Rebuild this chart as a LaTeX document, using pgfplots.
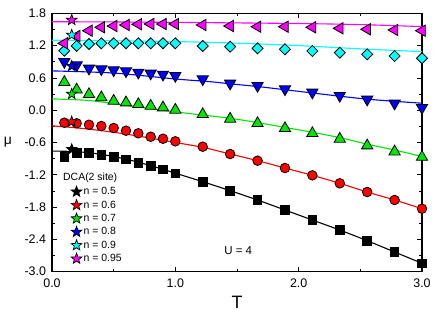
\documentclass[border=0pt]{standalone}
\usepackage{fontspec}
\setmainfont{Liberation Sans}
\usepackage{pgfplots}
\pgfplotsset{compat=1.18}
\usetikzlibrary{plotmarks}
\definecolor{cgreen}{RGB}{0,230,0}
\definecolor{ccyan}{RGB}{0,255,255}
\definecolor{cmag}{RGB}{255,0,255}
\pgfdeclareplotmark{fstar}{%
  \pgfpathmoveto{\pgfpointpolar{90}{\pgfplotmarksize}}%
  \pgfpathlineto{\pgfpointpolar{126}{0.42\pgfplotmarksize}}%
  \pgfpathlineto{\pgfpointpolar{162}{\pgfplotmarksize}}%
  \pgfpathlineto{\pgfpointpolar{198}{0.42\pgfplotmarksize}}%
  \pgfpathlineto{\pgfpointpolar{234}{\pgfplotmarksize}}%
  \pgfpathlineto{\pgfpointpolar{270}{0.42\pgfplotmarksize}}%
  \pgfpathlineto{\pgfpointpolar{306}{\pgfplotmarksize}}%
  \pgfpathlineto{\pgfpointpolar{342}{0.42\pgfplotmarksize}}%
  \pgfpathlineto{\pgfpointpolar{18}{\pgfplotmarksize}}%
  \pgfpathlineto{\pgfpointpolar{54}{0.42\pgfplotmarksize}}%
  \pgfpathclose\pgfusepathqfillstroke}
\pgfdeclareplotmark{sqdia}{%
  \pgfpathmoveto{\pgfqpoint{0pt}{\pgfplotmarksize}}%
  \pgfpathlineto{\pgfqpoint{\pgfplotmarksize}{0pt}}%
  \pgfpathlineto{\pgfqpoint{0pt}{-\pgfplotmarksize}}%
  \pgfpathlineto{\pgfqpoint{-\pgfplotmarksize}{0pt}}%
  \pgfpathclose\pgfusepathqfillstroke}
\pgfplotsset{
  mk/.style 2 args={only marks, forget plot, mark options={draw=black, line width=0.8bp, fill=#1, solid, rotate=#2}},
  cv/.style={no marks, smooth, forget plot, line width=1.1bp, draw=#1},
  st/.style={only marks, mark=fstar, mark size=5.6bp, mark options={draw=black, line width=0.7bp, fill=#1}},
}
\begin{document}
\begin{tikzpicture}
\useasboundingbox (0,0) rectangle (436bp,315bp);
\begin{axis}[
  at={(52bp,43.3bp)}, anchor=south west,
  scale only axis, width=370bp, height=258.4bp,
  xmin=0, xmax=3, ymin=-3, ymax=1.8,
  xtick={0,1,2,3}, minor xtick={0.5,1.5,2.5},
  ytick={-3,-2.4,-1.8,-1.2,-0.6,0,0.6,1.2,1.8},
  minor ytick={-2.7,-2.1,-1.5,-0.9,-0.3,0.3,0.9,1.5},
  xtick pos=both, ytick pos=both, tick align=inside,
  major tick length=5bp, minor tick length=3bp,
  every tick/.style={black, line width=0.8bp},
  axis line style={line width=1.1bp},
  /pgf/number format/.cd, fixed, fixed zerofill, precision=1, assume math mode=true, /pgfplots/.cd,
  tick label style={font=\fontsize{12.5}{14}\selectfont},
  xticklabel style={yshift=-4bp},
  yticklabel style={xshift=-2.5bp},
  xlabel={T}, ylabel={μ},
  xlabel style={font=\fontsize{18}{20}\selectfont, at={(axis description cs:0.5,0)}, anchor=center, yshift=-30.5bp},
  ylabel style={font=\fontsize{14}{16}\selectfont, rotate=-90, at={(axis description cs:0,0.5)}, anchor=center, xshift=-44bp},
  legend style={draw=none, fill=none, at={(axis cs:0.13,-1.35)}, anchor=north west,
    font=\fontsize{10.5}{12}\selectfont, row sep=0pt,
    nodes={inner sep=1.8bp, text height=7.8bp, text depth=2bp}},
  legend cell align=left,
  clip=false,
]
% curves
\addplot[cv=black] coordinates {(0,-0.76) (0.2,-0.77) (0.4,-0.82) (0.6,-0.91) (0.8,-1.03) (1.0,-1.17) (1.2222,-1.328) (1.4444,-1.495) (1.6667,-1.668) (1.8889,-1.854) (2.1111,-2.04) (2.3333,-2.226) (2.5556,-2.424) (2.7778,-2.634) (3.0,-2.844)};
\addplot[cv=red] coordinates {(0,-0.29) (0.25,-0.34) (0.5,-0.41) (0.75,-0.5) (1.0,-0.60) (1.2222,-0.69) (1.4444,-0.814) (1.6667,-0.938) (1.8889,-1.074) (2.1111,-1.21) (2.3333,-1.358) (2.5556,-1.52) (2.7778,-1.668) (3.0,-1.83)};
\addplot[cv=cgreen] coordinates {(0,0.21) (0.3,0.18) (0.6,0.09) (1.0,-0.03) (1.2222,-0.09) (1.4444,-0.15) (1.6667,-0.23) (1.8889,-0.32) (2.1111,-0.41) (2.3333,-0.51) (2.5556,-0.63) (2.7778,-0.74) (3.0,-0.86)};
\addplot[cv=blue] coordinates {(0,0.73) (0.5,0.69) (1.0,0.58) (1.28,0.53) (1.4444,0.49) (1.6667,0.44) (1.8889,0.38) (2.1111,0.32) (2.3333,0.26) (2.5556,0.205) (2.7778,0.165) (3.0,0.13)};
\addplot[cv=ccyan] coordinates {(0,1.30) (0.5,1.29) (1.0,1.275) (1.5,1.245) (2.0,1.20) (2.5,1.14) (3.0,1.087)};
\addplot[cv=cmag] coordinates {(0,1.644) (0.6,1.638) (1.28,1.626) (2.0,1.61) (2.5,1.59) (3.0,1.553)};
% markers
\addplot[mk={black}{0}, mark=square*, mark size=4.3bp] coordinates {(0.1,-0.864) (0.2,-0.79) (0.3,-0.79) (0.4,-0.827) (0.5,-0.864) (0.6,-0.912) (0.7,-0.975) (0.8,-1.037) (0.9,-1.099) (1.0,-1.172) (1.2222,-1.328) (1.4444,-1.495) (1.6667,-1.668) (1.8889,-1.854) (2.1111,-2.04) (2.3333,-2.226) (2.5556,-2.424) (2.7778,-2.634) (3.0,-2.844)};
\addplot[mk={red}{0}, mark=*, mark size=4.8bp] coordinates {(0.1,-0.232) (0.2,-0.243) (0.3,-0.27) (0.4,-0.294) (0.5,-0.331) (0.6,-0.381) (0.7,-0.429) (0.8,-0.493) (0.9,-0.53) (1.0,-0.578) (1.2222,-0.678) (1.4444,-0.814) (1.6667,-0.938) (1.8889,-1.074) (2.1111,-1.21) (2.3333,-1.358) (2.5556,-1.52) (2.7778,-1.668) (3.0,-1.83)};
\addplot[mk={cgreen}{0}, mark=triangle*, mark size=6.5bp] coordinates {(0.1,0.52) (0.2,0.38) (0.3,0.295) (0.4,0.235) (0.5,0.172) (0.6,0.141) (0.7,0.109) (0.8,0.079) (0.9,0.048) (1.0,0.005) (1.2222,-0.077) (1.4444,-0.162) (1.6667,-0.244) (1.8889,-0.337) (2.1111,-0.43) (2.3333,-0.534) (2.5556,-0.658) (2.7778,-0.77) (3.0,-0.87)};
\addplot[mk={blue}{180}, mark=triangle*, mark size=6.5bp] coordinates {(0.1,0.90) (0.2,0.838) (0.3,0.777) (0.4,0.764) (0.5,0.745) (0.6,0.727) (0.7,0.702) (0.8,0.684) (0.9,0.665) (1.0,0.641) (1.2222,0.578) (1.4444,0.498) (1.6667,0.455) (1.8889,0.392) (2.1111,0.331) (2.3333,0.27) (2.5556,0.201) (2.7778,0.127) (3.0,0.047)};
\addplot[mk={ccyan}{0}, mark=sqdia, mark size=5.5bp] coordinates {(0.1,1.105) (0.2,1.193) (0.3,1.23) (0.4,1.243) (0.5,1.243) (0.6,1.243) (0.7,1.243) (0.8,1.243) (0.9,1.243) (1.0,1.243) (1.2222,1.193) (1.4444,1.18) (1.6667,1.15) (1.8889,1.131) (2.1111,1.1) (2.3333,1.068) (2.5556,1.038) (2.7778,1.007) (3.0,0.964)};
\addplot[mk={cmag}{90}, mark=triangle*, mark size=6.5bp] coordinates {(0.1,1.243) (0.2,1.378) (0.3,1.477) (0.4,1.54) (0.5,1.564) (0.6,1.583) (0.7,1.596) (0.8,1.601) (0.9,1.601) (1.0,1.601) (1.2222,1.583) (1.4444,1.564) (1.6667,1.551) (1.8889,1.551) (2.1111,1.54) (2.3333,1.521) (2.5556,1.503) (2.7778,1.49) (3.0,1.477)};
% DCA stars
\addplot[st=black] coordinates {(0.16,-0.727)}; \addlegendentry{n = 0.5}
\addplot[st=red] coordinates {(0.16,-0.214)}; \addlegendentry{n = 0.6}
\addplot[st=cgreen] coordinates {(0.16,0.30)}; \addlegendentry{n = 0.7}
\addplot[st=blue] coordinates {(0.16,0.821)}; \addlegendentry{n = 0.8}
\addplot[st=ccyan] coordinates {(0.16,1.397)}; \addlegendentry{n = 0.9}
\addplot[st=cmag] coordinates {(0.16,1.675)}; \addlegendentry{n = 0.95}
\node[anchor=west, font=\fontsize{10.5}{12}\selectfont, inner sep=0pt] at (axis cs:0.089,-1.26) {DCA(2 site)};
\node[font=\fontsize{11.5}{13}\selectfont] at (axis cs:1.51,-2.6) {U = 4};
\end{axis}
\end{tikzpicture}
\end{document}
